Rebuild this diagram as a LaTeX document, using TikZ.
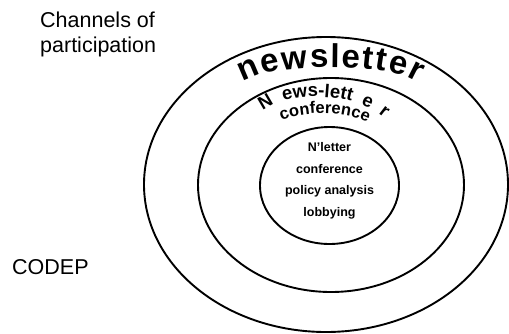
\documentclass[tikz,border=0pt]{standalone}
\usepackage{fontspec}
\setmainfont{Liberation Sans}
\usetikzlibrary{shapes.geometric,decorations.text}
\tikzset{
  ring/.style={draw, ellipse, line width=1.9pt, inner sep=0pt, outer sep=0pt},
  bigtext/.style={font=\fontsize{21.5}{25}\selectfont, inner sep=0pt},
  coretext/.style={font=\bfseries\fontsize{12.5}{14}\selectfont, inner sep=0pt, anchor=base},
}
\begin{document}
\begin{tikzpicture}[x=1pt,y=-1pt]
\useasboundingbox (0,0) rectangle (509,333);
\node[ring, minimum width=364pt, minimum height=295pt] (outer) at (326,184.5) {};
\node[ring, minimum width=266pt, minimum height=214pt] (middle) at (331,185) {};
\node[ring, minimum width=139pt, minimum height=117pt] (inner) at (329.5,185.5) {};

\node[bigtext, anchor=base west, align=left] (title) at (40,52) {Channels of\\participation};
\node[bigtext, anchor=base west] (codep) at (12,274) {CODEP};

\node[coretext] (c1) at (329.5,151.5) {N’letter};
\node[coretext] (c2) at (329.5,173) {conference};
\node[coretext] (c3) at (329.5,194.5) {policy analysis};
\node[coretext] (c4) at (329.5,216) {lobbying};

\begin{scope}
\fontsize{33}{33}\selectfont\bfseries
\path[decorate, decoration={text along path, text align={fit to path},
  text={newsletter}}]
  (243,83) .. controls (268,62) and (392,62) .. (418,83);
\end{scope}
\begin{scope}
\fontsize{18.5}{18.5}\selectfont\bfseries
\path[decorate, decoration={text along path, text align={fit to path stretching spaces},
  text={N ews-lett e r}}]
  (263,111) .. controls (285,92) and (352,90) .. (384,118);
\end{scope}
\begin{scope}
\fontsize{16.5}{16.5}\selectfont\bfseries
\path[decorate, decoration={text along path, text align=center,
  text={conference}}]
  (281,121) .. controls (300,111) and (348,110) .. (368,123);
\end{scope}
\end{tikzpicture}
\end{document}
